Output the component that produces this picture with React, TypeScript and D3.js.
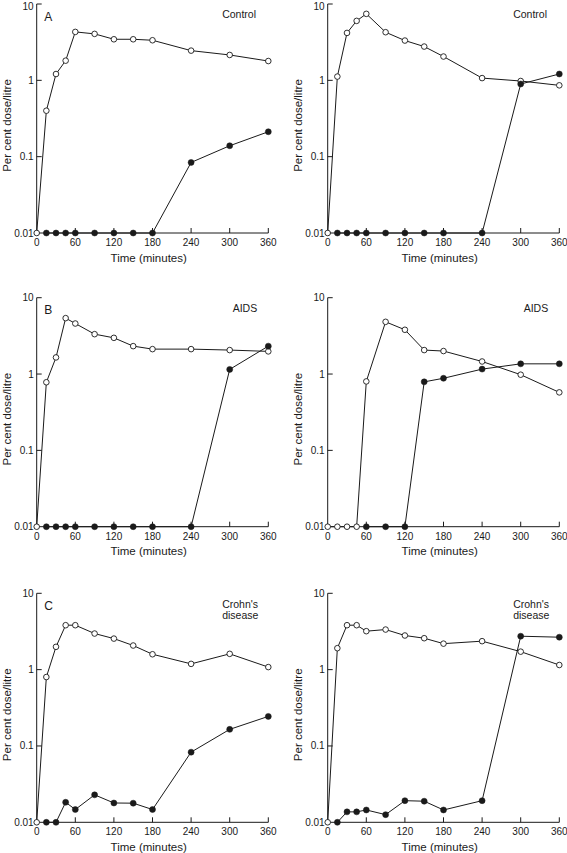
import React from "react";
import * as d3 from "d3";

const times = [0, 15, 30, 45, 60, 90, 120, 150, 180, 240, 300, 360];
const xTicks = [0, 60, 120, 180, 240, 300, 360];
const yTicks = [10, 1, 0.1, 0.01];
const yTickLabels = ["10", "1", "0.1", "0.01"];

const panelLetters = ["A", "B", "C"];
const groupLabels = [["Control"], ["AIDS"], ["Crohn's", "disease"]];

// open circles (o), filled circles (f); null = no point
const aLeftOpen = [0.01, 0.4, 1.21, 1.81, 4.31, 4.06, 3.45, 3.45, 3.35, 2.45, 2.15, 1.79];
const aLeftFilled = [null, 0.01, 0.01, 0.01, 0.01, 0.01, 0.01, 0.01, 0.01, 0.084, 0.139, 0.212];
const aRightOpen = [0.01, 1.12, 4.18, 6.01, 7.43, 4.27, 3.32, 2.77, 2.05, 1.07, 0.98, 0.86];
const aRightFilled = [null, 0.01, 0.01, 0.01, 0.01, 0.01, 0.01, 0.01, 0.01, 0.01, 0.895, 1.21];
const bLeftOpen = [0.01, 0.78, 1.65, 5.4, 4.59, 3.33, 2.98, 2.32, 2.12, 2.12, 2.06, 1.98];
const bLeftFilled = [null, 0.01, 0.01, 0.01, 0.01, 0.01, 0.01, 0.01, 0.01, 0.01, 1.15, 2.32];
const bRightOpen = [0.01, 0.01, 0.01, 0.01, 0.8, 4.83, 3.8, 2.06, 2.0, 1.46, 0.98, 0.575];
const bRightFilled = [null, null, null, null, 0.01, 0.01, 0.01, 0.79, 0.88, 1.16, 1.36, 1.36];
const cLeftOpen = [0.01, 0.8, 1.99, 3.82, 3.82, 2.97, 2.55, 2.07, 1.59, 1.19, 1.61, 1.08];
const cLeftFilled = [null, 0.01, 0.01, 0.0183, 0.0147, 0.0229, 0.0179, 0.0178, 0.0147, 0.083, 0.165, 0.244];
const cRightOpen = [0.01, 1.91, 3.82, 3.82, 3.19, 3.35, 2.8, 2.58, 2.19, 2.36, 1.72, 1.15];
const cRightFilled = [null, 0.01, 0.0137, 0.0137, 0.0145, 0.0126, 0.0192, 0.0189, 0.0145, 0.0192, 2.74, 2.66];

const panels = [
  { row: 0, col: 0, open: aLeftOpen, filled: aLeftFilled },
  { row: 0, col: 1, open: aRightOpen, filled: aRightFilled },
  { row: 1, col: 0, open: bLeftOpen, filled: bLeftFilled },
  { row: 1, col: 1, open: bRightOpen, filled: bRightFilled },
  { row: 2, col: 0, open: cLeftOpen, filled: cLeftFilled },
  { row: 2, col: 1, open: cRightOpen, filled: cRightFilled },
];

const W = 567;
const H = 853;
const colX = [36.7, 327.7];
const rowY = [4, 297.7, 593.3];
const plotW = 231.6;
const plotH = 229;
const FONT = "'Liberation Sans', Arial, Helvetica, sans-serif";
const INK = "#1a1a1a";

function Panel({ p }: { p: any }) {
  const x0 = colX[p.col];
  const top = rowY[p.row];
  const bottom = top + plotH;
  const x = d3.scaleLinear().domain([0, 360]).range([x0, x0 + plotW]);
  const y = d3.scaleLog().domain([0.01, 10]).range([bottom, top]);
  const pts = (arr: (number | null)[]) =>
    times
      .map((t, i) => ({ t, v: arr[i] }))
      .filter((d) => d.v !== null) as { t: number; v: number }[];
  const line = d3
    .line<{ t: number; v: number }>()
    .x((d) => x(d.t))
    .y((d) => y(d.v));
  const openPts = pts(p.open);
  const filledPts = pts(p.filled);
  const labels = groupLabels[p.row];
  const labelDx = p.row === 1 ? 196 : 185.5;
  return (
    <g>
      <line x1={x0} x2={x0} y1={top} y2={bottom} stroke={INK} strokeWidth={1} />
      <line x1={x0} x2={x0 + plotW} y1={bottom} y2={bottom} stroke={INK} strokeWidth={1} />
      {yTicks.map((v, i) => (
        <g key={"yt" + i}>
          {v !== 0.01 && (
            <line x1={x0} x2={x0 + 5} y1={y(v)} y2={y(v)} stroke={INK} strokeWidth={1} />
          )}
          <text
            x={x0 - 3}
            y={Math.max(y(v), 6)}
            textAnchor="end"
            dominantBaseline="central"
            fontSize={10}
            fontFamily={FONT}
            fill={INK}
          >
            {yTickLabels[i]}
          </text>
        </g>
      ))}
      {xTicks.map((t) => (
        <g key={"xt" + t}>
          {t !== 0 && (
            <line x1={x(t)} x2={x(t)} y1={bottom} y2={bottom - 5} stroke={INK} strokeWidth={1} />
          )}
          <text x={x(t)} y={bottom + 13} textAnchor="middle" fontSize={10} fontFamily={FONT} fill={INK}>
            {t}
          </text>
        </g>
      ))}
      <text
        x={x0 + 112}
        y={bottom + 28.5}
        textAnchor="middle"
        fontSize={11.5}
        fontFamily={FONT}
        fill={INK}
      >
        Time (minutes)
      </text>
      <text
        transform={`translate(${x0 - 30},${(top + bottom) / 2 + 7}) rotate(-90)`}
        textAnchor="middle"
        dominantBaseline="central"
        fontSize={11.5}
        fontFamily={FONT}
        fill={INK}
      >
        Per cent dose/litre
      </text>
      {p.col === 0 && (
        <text
          x={x0 + 7.5}
          y={top + 12.5}
          dominantBaseline="central"
          fontSize={12}
          fontFamily={FONT}
          fill={INK}
        >
          {panelLetters[p.row]}
        </text>
      )}
      {labels.map((s: string, i: number) => (
        <text
          key={"lab" + i}
          x={x0 + labelDx}
          y={top + 10.3 + i * 11.7}
          dominantBaseline="central"
          fontSize={10.5}
          fontFamily={FONT}
          fill={INK}
        >
          {s}
        </text>
      ))}
      <path d={line(openPts) || ""} fill="none" stroke={INK} strokeWidth={1} />
      {openPts.map((d, i) => (
        <circle key={"o" + i} cx={x(d.t)} cy={y(d.v)} r={2.8} fill="#fff" stroke={INK} strokeWidth={0.9} />
      ))}
      <path d={line(filledPts) || ""} fill="none" stroke={INK} strokeWidth={1} />
      {filledPts.map((d, i) => (
        <circle key={"f" + i} cx={x(d.t)} cy={y(d.v)} r={3} fill={INK} stroke={INK} strokeWidth={0.5} />
      ))}
    </g>
  );
}

export default function App() {
  return (
    <svg
      width={W}
      height={H}
      viewBox={`0 0 ${W} ${H}`}
      style={{ position: "absolute", left: 0, top: 0, background: "#fff" }}
    >
      <rect width={W} height={H} fill="#fff" />
      {panels.map((p, i) => (
        <Panel key={i} p={p} />
      ))}
    </svg>
  );
}
